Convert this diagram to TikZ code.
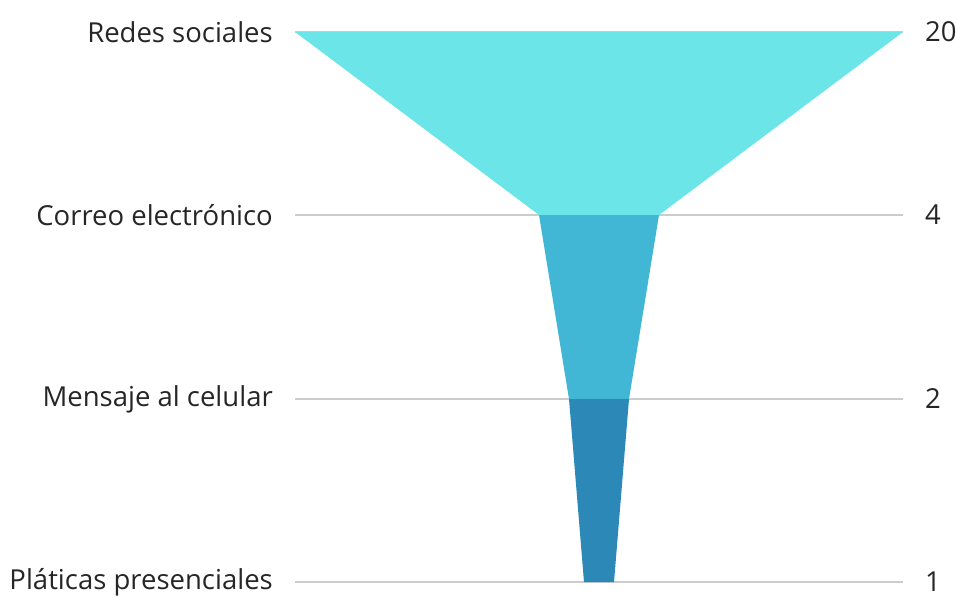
\documentclass[tikz,border=0pt]{standalone}
\usepackage{fontspec}
\setmainfont{Open Sans}
\begin{document}
\begin{tikzpicture}[x=1pt,y=-1pt,
  grid/.style={draw=black!20,line width=1.2pt},
  lbl/.style={font=\fontsize{27.5}{31}\selectfont,text=black!85,inner sep=0pt},
  lleft/.style={lbl,anchor=east},
  lright/.style={lbl,anchor=west}]
\useasboundingbox (0,0) rectangle (957,596);
\definecolor{cA}{HTML}{6BE5E8}
\definecolor{cB}{HTML}{41B6D5}
\definecolor{cC}{HTML}{2C89B7}
% level coordinates (left end, right end of each guide line)
\coordinate (l1) at (295,32);  \coordinate (r1) at (903,32);
\coordinate (l2) at (295,215); \coordinate (r2) at (903,215);
\coordinate (l3) at (295,399); \coordinate (r3) at (903,399);
\coordinate (l4) at (295,582); \coordinate (r4) at (903,582);
% guide lines
\draw[grid] (l1) -- (r1);
\draw[grid] (l2) -- (r2);
\draw[grid] (l3) -- (r3);
\draw[grid] (l4) -- (r4);
% funnel segments
\fill[cA] (295,32) -- (903,32) -- (659,215) -- (539,215) -- cycle;
\fill[cB] (539,215) -- (659,215) -- (629,399) -- (569,399) -- cycle;
\fill[cC] (569,399) -- (629,399) -- (614,582) -- (584,582) -- cycle;
% labels
\node[lleft] (t1) at (273,32) {Redes sociales};
\node[lleft] (t2) at (273,215) {Correo electrónico};
\node[lleft] (t3) at (273,399) {Mensaje al celular};
\node[lleft] (t4) at (273,582) {Pláticas presenciales};
\node[lright] (v1) at (925,32) {20};
\node[lright] (v2) at (925,215) {4};
\node[lright] (v3) at (925,399) {2};
\node[lright] (v4) at (925,582) {1};
\end{tikzpicture}
\end{document}
